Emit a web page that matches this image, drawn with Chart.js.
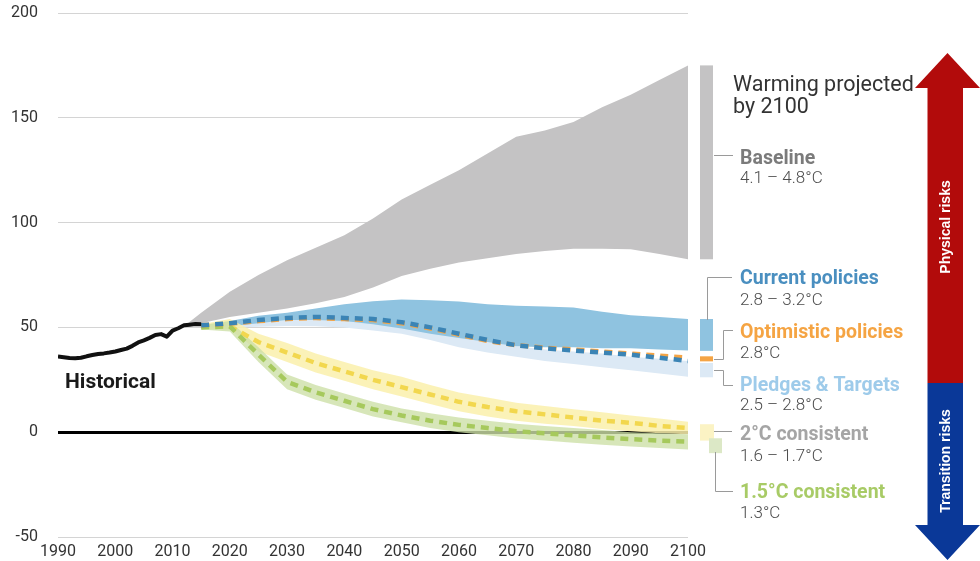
<!DOCTYPE html>
<html>
<head>
<meta charset="utf-8">
<script src="https://cdn.jsdelivr.net/npm/chart.js@4.4.1/dist/chart.umd.min.js"></script>
<style>
html,body{margin:0;padding:0;background:#fff;}
#wrap{width:980px;height:561px;position:relative;}
</style>
</head>
<body>
<div id="wrap"><canvas id="c" width="980" height="561"></canvas></div>
<script>
// ---------- DATA ----------
const histYears = [1990,1991,1992,1993,1994,1995,1996,1997,1998,1999,2000,2001,2002,2003,2004,2005,2006,2007,2008,2009,2010,2011,2012,2013,2014,2015];
const histValues = [36.1,35.8,35.4,35.3,35.5,36.2,36.8,37.3,37.6,38,38.5,39.2,39.9,41.2,42.8,43.8,45,46.4,46.8,45.6,48.5,49.6,51,51.3,51.6,51.5];

const baselineYears = [2012,2015,2020,2025,2030,2035,2040,2045,2050,2055,2060,2065,2070,2075,2080,2085,2090,2095,2100];
const baselineHigh = [50.5,57,67,75,82,88,94,102,111,118,125,133,141,144,148,155,161,168,175];
const baselineLow  = [50.5,52,55,57,59,61.5,64.5,69,74.5,78,81,83,85,86.5,87.5,87.5,87.3,85,82.5];

const projYears = [2015,2020,2025,2030,2035,2040,2045,2050,2055,2060,2065,2070,2075,2080,2085,2090,2095,2100];
const currentHigh = [51,53,55.5,57,59,61,62.5,63.3,63,62.3,61,60.3,60,59.5,57.5,55.8,55,54];
const currentLow  = [50,50.5,52,53.5,53.5,53,51.5,49.5,47,45,43,41,40.5,40.5,40,40,39.5,39];
const pledgesHigh = [50.5,51.5,52.5,53.5,54,54,53,52,49.5,46.5,43.5,41,39.5,38.5,37.5,36,35,34];
const pledgesLow  = [49.5,50,50.3,50.7,50.5,50,48.5,47,44,40.5,38,36,34,32.5,31,29.5,28,26.5];
const pledgesMid  = [51,52,53.5,54.5,55,54.5,54,52.5,50,47,44,41.5,40,39,38,37,35.5,34];
const optimisticMid = [51,51.8,53,54,54.5,54,53.5,52,49.5,46.5,43.5,41.5,40.3,39.5,38.5,37.5,36.5,35.5];
const twoDegHigh = [51.5,54,47,42.5,37.5,33.5,29.5,26.5,22.5,19,16.5,14,12.5,11,9.5,8,6.5,5];
const twoDegLow  = [49.5,49,38.5,33.5,28.5,24.5,20.5,17,13.5,10,7.5,5.5,4,3,1.5,0.5,-0.5,-1];
const twoDegMid  = [50.5,50.5,43,38,33,29,25,21.5,18,14.5,12,10,8.5,7,5.5,4.5,3,2];
const onePt5High = [51,53,40.5,27.5,22.5,18.5,14.5,11.3,9,7,5.5,4,3,2,1,0,-0.5,-1];
const onePt5Low  = [49,48,33.5,20.5,15.5,11.5,7.5,4.7,2,0,-1.5,-3,-4,-5,-6,-6.8,-7.5,-8.2];
const onePt5Mid  = [50,50.5,37,24,19,15,11,8,5.5,3.5,2,0.5,-0.5,-1.5,-2.5,-3.3,-4,-4.5];

const yTicks = [-50,0,50,100,150,200];
const xTicks = [1990,2000,2010,2020,2030,2040,2050,2060,2070,2080,2090,2100];

// warming projected by 2100 (summary)
const summaryNames = ['Baseline','Current policies','Optimistic policies','Pledges & Targets','2°C consistent','1.5°C consistent'];
const summaryTemps = ['4.1 – 4.8°C','2.8 – 3.2°C','2.8°C','2.5 – 2.8°C','1.6 – 1.7°C','1.3°C'];
const summaryHigh = [175,54,36.2,33,3.8,-2.9];
const summaryLow  = [82.5,38.8,33.8,26.2,-4,-10];

// ---------- STYLE ----------
const FONT = 'Roboto, "Open Sans", sans-serif';
const pts = (xs, ys) => xs.map((x, i) => ({x: x, y: ys[i]}));
const T = 'rgba(0,0,0,0)';
function line(label, xs, ys, color, width, dash) {
  return {label, data: pts(xs, ys), borderColor: color, borderWidth: width, borderDash: dash || [],
          pointRadius: 0, fill: false, tension: 0, borderCapStyle: 'butt', borderJoinStyle: 'round'};
}
function bandHi(label, xs, ys, color) {
  return {label, data: pts(xs, ys), borderColor: T, borderWidth: 0, backgroundColor: color,
          pointRadius: 0, fill: '+1', tension: 0};
}
function bandLo(label, xs, ys) {
  return {label, data: pts(xs, ys), borderColor: T, borderWidth: 0, pointRadius: 0, fill: false, tension: 0};
}

const datasets = [
  line('Historical', histYears, histValues, '#111111', 4),
  line('Pledges & Targets', projYears, pledgesMid, '#3B84B5', 4.5, [8, 6]),
  line('Optimistic policies', projYears, optimisticMid, '#F4A445', 4.5, [8, 6]),
  line('1.5°C consistent', projYears, onePt5Mid, '#A6C95C', 4.5, [8, 6]),
  line('2°C consistent', projYears, twoDegMid, '#F2D74E', 4.5, [8, 6]),
  bandHi('1.5°C high', projYears, onePt5High, 'rgba(205,224,168,0.8)'),
  bandLo('1.5°C low', projYears, onePt5Low),
  bandHi('2°C high', projYears, twoDegHigh, 'rgba(250,240,172,0.85)'),
  bandLo('2°C low', projYears, twoDegLow),
  bandHi('Current high', projYears, currentHigh, '#8FC3E0'),
  bandLo('Current low', projYears, currentLow),
  bandHi('Pledges high', projYears, pledgesHigh, '#DCE9F5'),
  bandLo('Pledges low', projYears, pledgesLow),
  bandHi('Baseline high', baselineYears, baselineHigh, '#C4C3C4'),
  bandLo('Baseline low', baselineYears, baselineLow)
];

// ---------- ANNOTATIONS ----------
const annotations = {
  id: 'annotations',
  afterDraw(chart) {
    const ctx = chart.ctx, y = chart.scales.y;
    ctx.save();
    // Historical label
    ctx.fillStyle = '#1a1a1a';
    ctx.font = 'bold 21px ' + FONT;
    ctx.textBaseline = 'alphabetic';
    ctx.textAlign = 'left';
    ctx.fillText('Historical', 65, 388);

    // summary swatches (values through y scale)
    const swX = [700, 700, 700, 700, 700, 709];
    const swW = [13, 13, 13, 13, 14, 13];
    const swC = ['#C4C3C4', '#8FC3E0', '#F4A445', '#DCE9F5', '#FBF3C4', '#DCE8C6'];
    for (let i = 0; i < summaryHigh.length; i++) {
      const top = y.getPixelForValue(summaryHigh[i]);
      const bot = y.getPixelForValue(summaryLow[i]);
      ctx.fillStyle = swC[i];
      ctx.fillRect(swX[i], top, swW[i], bot - top);
    }

    // connectors
    ctx.strokeStyle = '#9a9a9a';
    ctx.lineWidth = 1;
    const segs = [
      [[714,155.5],[733,155.5]],
      [[707.5,320],[707.5,277.5],[732,277.5]],
      [[714,359.5],[723.5,359.5],[723.5,330.5],[733,330.5]],
      [[714,370.5],[723.5,370.5],[723.5,385.5],[733,385.5]],
      [[714,431.5],[732,431.5]],
      [[715.5,452],[715.5,491.5],[733,491.5]]
    ];
    segs.forEach(s => {
      ctx.beginPath();
      ctx.moveTo(s[0][0], s[0][1]);
      for (let k = 1; k < s.length; k++) ctx.lineTo(s[k][0], s[k][1]);
      ctx.stroke();
    });

    // title
    ctx.fillStyle = '#333333';
    ctx.font = '21.5px ' + FONT;
    ctx.fillText('Warming projected', 733, 91);
    ctx.fillText('by 2100', 733, 113);

    const nameColors = ['#7B7B7B', '#4A8FC0', '#F5A443', '#9ECBEA', '#A5A5A5', '#A8CB66'];
    const nameY = [164, 284, 338, 391, 440, 498];
    const valY = [183, 305, 358, 410, 461, 518];
    for (let i = 0; i < summaryNames.length; i++) {
      ctx.font = 'bold 19.5px ' + FONT;
      ctx.fillStyle = nameColors[i];
      ctx.fillText(summaryNames[i], 740, nameY[i]);
      ctx.font = '300 17px ' + FONT;
      ctx.fillStyle = '#4d4d4d';
      ctx.fillText(summaryTemps[i], 740, valY[i]);
    }

    // risk arrow
    ctx.fillStyle = '#B20B0B';
    ctx.beginPath();
    ctx.moveTo(947.5, 53); ctx.lineTo(980, 88); ctx.lineTo(963, 88); ctx.lineTo(963, 383);
    ctx.lineTo(927.5, 383); ctx.lineTo(927.5, 88); ctx.lineTo(915, 88); ctx.closePath(); ctx.fill();
    ctx.fillStyle = '#0A3898';
    ctx.beginPath();
    ctx.moveTo(927.5, 383); ctx.lineTo(963, 383); ctx.lineTo(963, 525); ctx.lineTo(980, 525);
    ctx.lineTo(947.5, 560); ctx.lineTo(915, 525); ctx.lineTo(927.5, 525); ctx.closePath(); ctx.fill();

    ctx.fillStyle = '#ffffff';
    ctx.font = 'bold 14px "Liberation Sans", Arial, sans-serif';
    ctx.textAlign = 'center';
    ctx.textBaseline = 'middle';
    ctx.save(); ctx.translate(946, 227); ctx.rotate(-Math.PI / 2); ctx.fillText('Physical risks', 0, 0); ctx.restore();
    ctx.save(); ctx.translate(946, 461); ctx.rotate(-Math.PI / 2); ctx.fillText('Transition risks', 0, 0); ctx.restore();
    ctx.restore();
  }
};

function draw() {
  new Chart(document.getElementById('c'), {
    type: 'line',
    data: {datasets},
    options: {
      responsive: false,
      animation: false,
      devicePixelRatio: 1,
      layout: {padding: {left: 0, right: 292, top: 13, bottom: 0}},
      plugins: {legend: {display: false}, tooltip: {enabled: false}},
      scales: {
        x: {
          type: 'linear', min: 1990, max: 2100,
          grid: {display: false, drawTicks: false},
          border: {display: false},
          afterBuildTicks: s => { s.ticks = xTicks.map(v => ({value: v})); },
          afterFit: s => { s.height = 24; s.paddingLeft = 0; s.paddingRight = 0; s.paddingTop = 0; s.paddingBottom = 0; },
          ticks: {padding: 5, color: '#333', font: {family: FONT, size: 16}, callback: v => String(v), maxRotation: 0, autoSkip: false}
        },
        y: {
          min: -50, max: 200, z: 1,
          grid: {
            drawTicks: false,
            color: c => (c.tick && c.tick.value === 0) ? '#000000' : 'rgba(0,0,0,0.17)',
            lineWidth: c => (c.tick && c.tick.value === 0) ? 3 : 1
          },
          border: {display: false},
          afterBuildTicks: s => { s.ticks = yTicks.map(v => ({value: v})); },
          afterFit: s => { s.width = 58; s.paddingTop = 0; s.paddingBottom = 0; s.paddingLeft = 0; s.paddingRight = 0; },
          ticks: {padding: 20, color: '#333', font: {family: FONT, size: 16}}
        }
      }
    },
    plugins: [annotations]
  });
}
Promise.all([
  document.fonts.load('16px Roboto'), document.fonts.load('bold 18px Roboto'),
  document.fonts.load('300 17px Roboto'), document.fonts.load('bold 14px "Liberation Sans"')
]).then(draw, draw);
</script>
</body>
</html>
